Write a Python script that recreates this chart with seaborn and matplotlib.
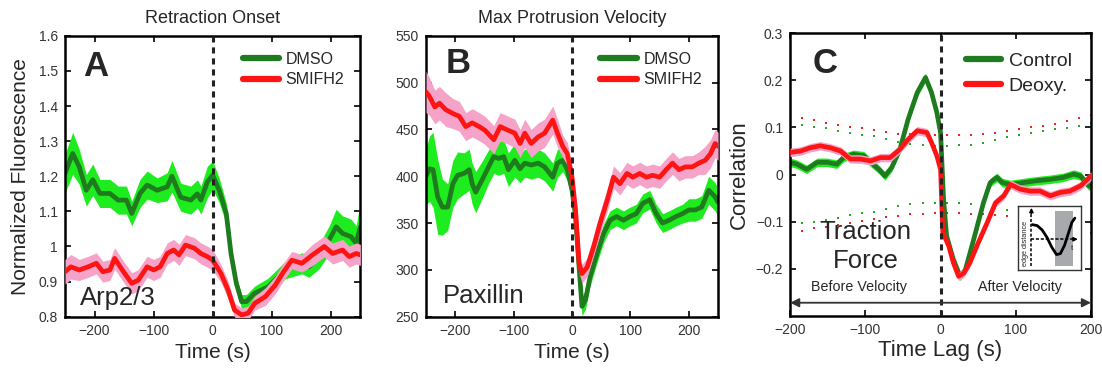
import numpy as np
import seaborn as sns
import matplotlib.pyplot as plt
from matplotlib.ticker import FuncFormatter

sns.set_style("ticks")
plt.rcParams["font.family"] = ["Liberation Sans", "DejaVu Sans"]

# ---- panel A: Arp2/3, retraction onset ----
a_t_dmso = [-250, -237, -226, -214, -203, -191, -174, -160, -146, -137, -123, -111, -94,
            -77, -69, -54, -37, -26, -20, -9, 0, 11, 23, 31, 40, 49, 57, 71, 94, 123,
            151, 163, 180, 197, 209, 220, 234, 243, 250]
a_dmso = [1.208, 1.265, 1.227, 1.160, 1.190, 1.151, 1.151, 1.132, 1.132, 1.094, 1.151,
          1.175, 1.160, 1.170, 1.200, 1.140, 1.132, 1.150, 1.132, 1.184, 1.203, 1.160,
          1.094, 0.980, 0.895, 0.843, 0.843, 0.867, 0.885, 0.933, 0.952, 0.942, 0.971,
          1.018, 1.056, 1.037, 1.028, 1.009, 1.056]
a_dmso_sem = [0.055, 0.06, 0.05, 0.045, 0.045, 0.04, 0.04, 0.04, 0.04, 0.035, 0.04, 0.04,
              0.035, 0.04, 0.045, 0.04, 0.04, 0.04, 0.04, 0.045, 0.04, 0.035, 0.03, 0.025,
              0.02, 0.02, 0.02, 0.02, 0.025, 0.025, 0.03, 0.03, 0.035, 0.04, 0.05, 0.05,
              0.05, 0.05, 0.07]
a_t_smi = [-250, -240, -226, -211, -197, -186, -174, -166, -151, -137, -126, -111, -100,
           -89, -77, -66, -57, -46, -31, -20, -9, 0, 14, 26, 37, 49, 60, 71, 89, 106,
           120, 134, 151, 169, 189, 203, 220, 231, 243, 250]
a_smi = [0.928, 0.942, 0.933, 0.942, 0.952, 0.928, 0.933, 0.966, 0.928, 0.895, 0.904,
         0.942, 0.933, 0.942, 0.980, 0.990, 0.976, 1.004, 0.995, 0.980, 0.971, 0.961,
         0.923, 0.876, 0.819, 0.805, 0.810, 0.838, 0.857, 0.890, 0.928, 0.961, 0.952,
         0.976, 1.000, 0.980, 0.990, 0.971, 0.980, 0.976]
a_smi_sem = [0.035, 0.035, 0.03, 0.03, 0.03, 0.03, 0.03, 0.03, 0.03, 0.03, 0.03, 0.03,
             0.03, 0.03, 0.03, 0.03, 0.03, 0.03, 0.03, 0.03, 0.03, 0.03, 0.025, 0.025,
             0.02, 0.02, 0.02, 0.02, 0.025, 0.025, 0.025, 0.025, 0.025, 0.03, 0.03, 0.03,
             0.03, 0.03, 0.03, 0.03]

# ---- panel B: Paxillin, max protrusion velocity ----
b_t_dmso = [-250, -244, -238, -230, -222, -213, -204, -196, -185, -176, -171, -165, -154,
            -143, -134, -126, -117, -109, -98, -89, -81, -70, -58, -47, -33, -25, -16, -8,
            0, 6, 12, 17, 23, 31, 43, 54, 65, 76, 88, 99, 110, 121, 133, 144, 155, 166,
            178, 189, 200, 211, 222, 234, 245, 250]
b_dmso = [400, 408, 407, 378, 367, 367, 392, 401, 403, 407, 392, 383, 396, 410, 421, 419,
          421, 407, 417, 408, 414, 412, 414, 410, 399, 414, 417, 407, 385, 357, 303, 261,
          268, 293, 318, 339, 353, 357, 353, 357, 360, 371, 375, 360, 350, 353, 357, 360,
          364, 364, 367, 385, 378, 372]
b_dmso_sem = [30, 35, 40, 40, 30, 25, 25, 25, 22, 22, 22, 22, 20, 18, 18, 18, 18, 18, 18,
              15, 15, 15, 15, 15, 15, 15, 12, 12, 10, 10, 10, 10, 10, 10, 10, 10, 10, 10,
              10, 10, 10, 10, 10, 10, 10, 10, 10, 10, 12, 12, 12, 15, 15, 15]
b_t_smi = [-250, -244, -235, -227, -216, -204, -193, -182, -171, -159, -149, -134, -123,
           -109, -98, -89, -81, -70, -58, -47, -33, -25, -16, -8, 0, 6, 12, 17, 26, 37,
           48, 60, 71, 82, 94, 104, 116, 127, 138, 150, 161, 172, 183, 194, 206, 217, 228,
           237, 245, 250]
b_smi = [490, 485, 474, 478, 471, 467, 464, 453, 457, 453, 449, 439, 453, 449, 446, 435,
         446, 435, 442, 446, 460, 446, 432, 424, 399, 364, 307, 296, 303, 325, 350, 374,
         399, 392, 403, 399, 403, 399, 401, 399, 407, 414, 407, 410, 410, 414, 417, 424,
         435, 432]
b_smi_sem = [22, 20, 18, 18, 18, 16, 16, 15, 15, 15, 15, 15, 15, 15, 15, 15, 15, 15, 15,
             15, 15, 15, 12, 12, 10, 10, 10, 10, 10, 10, 12, 12, 12, 12, 12, 12, 12, 12,
             12, 12, 12, 12, 12, 12, 12, 12, 15, 15, 15, 15]

# ---- panel C: traction force vs velocity correlation ----
c_lag_ctrl = [-200, -191, -178, -164, -151, -138, -129, -116, -102, -93, -82, -74, -65,
              -54, -43, -31, -20, -12, -5, 0, 4, 8, 17, 26, 33, 44, 57, 66, 75, 82, 93,
              110, 128, 146, 163, 177, 186, 197, 200]
c_ctrl = [0.026, 0.022, 0.011, 0.026, 0.026, 0.022, 0.036, 0.043, 0.040, 0.026, 0.011,
          -0.003, 0.015, 0.054, 0.118, 0.174, 0.206, 0.174, 0.132, 0.089, -0.052, -0.130,
          -0.180, -0.216, -0.202, -0.138, -0.060, -0.017, -0.006, -0.017, -0.021, -0.017,
          -0.013, -0.010, -0.006, 0.001, -0.003, -0.024, -0.026]
c_lag_deoxy = [-200, -186, -173, -160, -147, -133, -120, -107, -93, -80, -67, -54, -43,
               -31, -18, -12, -5, 0, 3, 11, 17, 24, 31, 39, 50, 62, 73, 84, 93, 106, 119,
               132, 146, 159, 172, 186, 200]
c_deoxy = [0.047, 0.050, 0.057, 0.061, 0.057, 0.050, 0.033, 0.033, 0.029, 0.036, 0.036,
           0.054, 0.075, 0.093, 0.089, 0.068, 0.040, 0.011, -0.123, -0.152, -0.187,
           -0.216, -0.209, -0.187, -0.145, -0.102, -0.060, -0.045, -0.021, -0.031, -0.035,
           -0.035, -0.045, -0.038, -0.035, -0.024, -0.003]
c_sem = 0.009

# significance thresholds (dotted)
c_thr_lag = [-200, -184, -168, -152, -136, -120, -104, -88, -72, -56, -40, -24, -8, 8, 24,
             40, 56, 72, 88, 104, 120, 136, 152, 168, 184, 200]
c_thr_red_hi = [0.128, 0.120, 0.1155, 0.109, 0.1055, 0.101, 0.099, 0.094, 0.091, 0.087,
                0.086, 0.085, 0.085, 0.085, 0.085, 0.085, 0.086, 0.0885, 0.093, 0.097,
                0.1006, 0.104, 0.108, 0.113, 0.120, 0.1255]
c_thr_grn_hi = [0.112, 0.1056, 0.1014, 0.098, 0.093, 0.0886, 0.085, 0.081, 0.076, 0.069,
                0.065, 0.063, 0.061, 0.061, 0.0623, 0.063, 0.066, 0.073, 0.0787, 0.0836,
                0.088, 0.0914, 0.0957, 0.099, 0.1035, 0.109]
c_thr_grn_lo = [-0.106, -0.1036, -0.100, -0.0966, -0.092, -0.0866, -0.082, -0.0788,
                -0.074, -0.067, -0.063, -0.061, -0.061, -0.061, -0.061, -0.062, -0.066,
                -0.072, -0.076, -0.080, -0.084, -0.088, -0.092, -0.095, -0.099, -0.102]
c_thr_red_lo = [-0.123, -0.120, -0.114, -0.111, -0.107, -0.102, -0.0987, -0.095, -0.091,
                -0.0873, -0.0845, -0.083, -0.082, -0.0816, -0.082, -0.083, -0.084, -0.086,
                -0.088, -0.092, -0.096, -0.101, -0.106, -0.111, -0.117, -0.123]

# inset cartoon curve (axes fraction)
inset_x = [0.226, 0.303, 0.38, 0.456, 0.533, 0.61, 0.672, 0.738, 0.805, 0.856, 0.903]
inset_y = [0.708, 0.692, 0.626, 0.513, 0.359, 0.241, 0.256, 0.385, 0.59, 0.744, 0.81]

GREEN_LINE = "#1e7b1e"
GREEN_BAND = "#1fec1f"
RED_LINE = "#ff1414"
RED_BAND = "#f5a3c8"
TICK_COL = "#333333"

fmt = FuncFormatter(lambda v, p: f"{v:g}".replace("-", "\u2212"))


def trace(ax, t, y, sem, line_c, band_c, label, z):
    t = np.asarray(t, float)
    y = np.asarray(y, float)
    sem = np.asarray(sem, float) * np.ones_like(y)
    ax.fill_between(t, y - sem, y + sem, color=band_c, lw=0, zorder=z)
    sns.lineplot(x=t, y=y, color=line_c, lw=3.4, ax=ax, label=label, zorder=z + 1)


def style(ax, xlim, ylim, yticks, legsize=11.5, hlen=2.3):
    ax.set_xlim(*xlim)
    ax.set_ylim(*ylim)
    ax.set_yticks(yticks)
    ax.xaxis.set_major_formatter(fmt)
    ax.yaxis.set_major_formatter(fmt)
    ax.tick_params(direction="in", length=4, width=1.2, top=True, right=True,
                   labelsize=10, colors="black", labelcolor=TICK_COL, pad=5)
    for s in ax.spines.values():
        s.set_visible(True)
        s.set_linewidth(1.8)
        s.set_color("black")
    ax.axvline(0, color="#222222", lw=2.2, ls=(0, (2, 1.6)), zorder=8)
    leg = ax.legend(loc="upper right", frameon=False, fontsize=legsize,
                    handlelength=hlen, handletextpad=0.4, labelspacing=0.35,
                    borderaxespad=0.6)
    for h in leg.get_lines():
        h.set_linewidth(4.5)


fig = plt.figure(figsize=(11.02, 3.73), dpi=100)

# A
axA = fig.add_axes([0.059, 0.151, 0.268, 0.753])
trace(axA, a_t_dmso, a_dmso, a_dmso_sem, GREEN_LINE, GREEN_BAND, "DMSO", 1)
trace(axA, a_t_smi, a_smi, a_smi_sem, RED_LINE, RED_BAND, "SMIFH2", 3)
style(axA, (-250, 250), (0.8, 1.6), [0.8, 0.9, 1.0, 1.1, 1.2, 1.3, 1.4, 1.5, 1.6])
axA.set_xticks([-200, -100, 0, 100, 200])
axA.set_xlabel("Time (s)", fontsize=15)
axA.set_ylabel("Normalized Fluorescence", fontsize=15, labelpad=6)
axA.set_title("Retraction Onset", fontsize=13, pad=9)
axA.text(0.062, 0.89, "A", transform=axA.transAxes, fontsize=25, fontweight="bold",
         va="center", ha="left")
axA.text(0.05, 0.04, "Arp2/3", transform=axA.transAxes, fontsize=18.5,
         va="baseline", ha="left")

# B
axB = fig.add_axes([0.3866, 0.151, 0.265, 0.753])
trace(axB, b_t_dmso, b_dmso, b_dmso_sem, GREEN_LINE, GREEN_BAND, "DMSO", 1)
trace(axB, b_t_smi, b_smi, b_smi_sem, RED_LINE, RED_BAND, "SMIFH2", 3)
style(axB, (-250, 250), (250, 550), [250, 300, 350, 400, 450, 500, 550])
axB.set_xticks([-200, -100, 0, 100, 200])
axB.set_xlabel("Time (s)", fontsize=15)
axB.set_ylabel("")
axB.set_title("Max Protrusion Velocity", fontsize=13, pad=9)
axB.text(0.066, 0.90, "B", transform=axB.transAxes, fontsize=25, fontweight="bold",
         va="center", ha="left")
axB.text(0.057, 0.048, "Paxillin", transform=axB.transAxes, fontsize=18.5,
         va="baseline", ha="left")

# C
axC = fig.add_axes([0.717, 0.153, 0.273, 0.758])
for lo, hi, col in [(c_thr_grn_lo, c_thr_grn_hi, "#22aa22"),
                    (c_thr_red_lo, c_thr_red_hi, "#ee2222")]:
    sns.scatterplot(x=c_thr_lag, y=hi, color=col, s=3, marker="s", linewidth=0,
                    ax=axC, zorder=0.5, legend=False)
    sns.scatterplot(x=c_thr_lag, y=lo, color=col, s=3, marker="s", linewidth=0,
                    ax=axC, zorder=0.5, legend=False)
trace(axC, c_lag_ctrl, c_ctrl, c_sem, GREEN_LINE, GREEN_BAND, "Control", 1)
trace(axC, c_lag_deoxy, c_deoxy, c_sem, RED_LINE, RED_BAND, "Deoxy.", 3)
style(axC, (-200, 200), (-0.3, 0.3), [-0.2, -0.1, 0.0, 0.1, 0.2, 0.3],
      legsize=14, hlen=1.8)
axC.set_xticks([-200, -100, 0, 100, 200])
axC.set_xlabel("Time Lag (s)", fontsize=16, labelpad=2)
axC.set_ylabel("Correlation", fontsize=16, labelpad=4)
axC.text(0.074, 0.894, "C", transform=axC.transAxes, fontsize=25, fontweight="bold",
         va="center", ha="left")
axC.text(-100, -0.121, "Traction", fontsize=18.5, ha="center", va="center")
axC.text(-100, -0.184, "Force", fontsize=18.5, ha="center", va="center")
axC.text(-108, -0.238, "Before Velocity", fontsize=10.3, ha="center", va="center")
axC.text(106, -0.238, "After Velocity", fontsize=10.3, ha="center", va="center")
axC.annotate("", xy=(200, -0.272), xytext=(-200, -0.272),
             arrowprops=dict(arrowstyle="<|-|>", color="#333333", lw=1.3,
                             mutation_scale=13, shrinkA=0, shrinkB=0), zorder=9)

# inset cartoon
axI = fig.add_axes([0.924, 0.276, 0.0569, 0.172])
axI.set_xlim(0, 1)
axI.set_ylim(0, 1)
axI.set_xticks([])
axI.set_yticks([])
for s in axI.spines.values():
    s.set_linewidth(1.0)
    s.set_color("#333333")
axI.axvspan(0.585, 0.877, ymin=0.066, ymax=0.92, color="#a7a9ac", lw=0)
axI.plot([0.21, 0.21], [0.066, 0.9], color="black", lw=1.1, ls=(0, (2, 1.2)))
axI.plot([0.21, 0.88], [0.48, 0.48], color="black", lw=1.1, ls=(0, (2, 1.2)))
axI.annotate("", xy=(0.21, 0.97), xytext=(0.21, 0.88),
             arrowprops=dict(arrowstyle="-|>", color="black", lw=1.0,
                             mutation_scale=6, shrinkA=0, shrinkB=0))
axI.annotate("", xy=(0.95, 0.48), xytext=(0.87, 0.48),
             arrowprops=dict(arrowstyle="-|>", color="black", lw=1.0,
                             mutation_scale=6, shrinkA=0, shrinkB=0))
sns.lineplot(x=inset_x, y=inset_y, color="black", lw=2.0, ax=axI, sort=False)
axI.text(0.12, 0.42, "edge distance", rotation=90, fontsize=5.3, ha="center",
         va="center")
axI.text(0.86, 0.33, "t", fontsize=5.5, ha="center", va="center")

fig.savefig("out.png", dpi=100)
